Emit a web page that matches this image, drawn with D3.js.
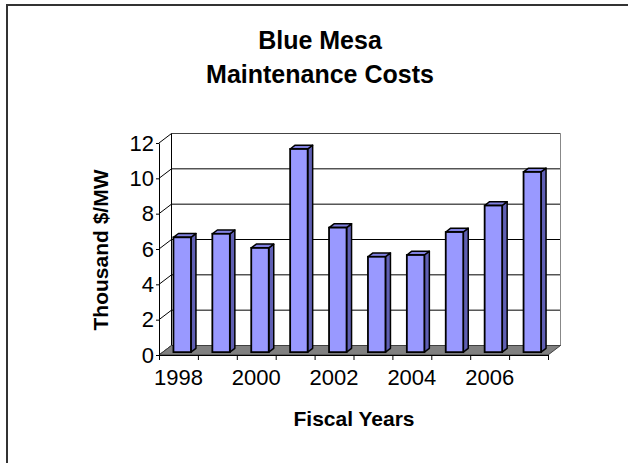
<!DOCTYPE html>
<html>
<head>
<meta charset="utf-8">
<script src="https://cdn.jsdelivr.net/npm/d3@7"></script>
<style>
  html, body { margin: 0; padding: 0; background: #fff; }
  svg { display: block; font-family: "Liberation Sans", Arial, sans-serif; }
</style>
</head>
<body>
<div id="chart"></div>
<script>
// ---- data ----
const years = [1998, 1999, 2000, 2001, 2002, 2003, 2004, 2005, 2006, 2007];
const costs = [6.5, 6.7, 5.9, 11.5, 7.05, 5.4, 5.5, 6.8, 8.3, 10.2];
const yTicks = [0, 2, 4, 6, 8, 10, 12];
const xLabelYears = [1998, 2000, 2002, 2004, 2006];
const titleLines = ["Blue Mesa", "Maintenance Costs"];
const xTitle = "Fiscal Years";
const yTitle = "Thousand $/MW";

(function () {
// ---- layout ----
const W = 628, H = 463;
const pLeft = 159, pRight = 548, pTop = 143, pBottom = 355;
const dx = 12.5, dy = -9.5;     // depth offset of the 3D box
const t0 = 0.3, t1 = 0.7;       // bar depth span

const svg = d3.select("#chart").append("svg").attr("width", W).attr("height", H);

// outer chart-area border (only left/top visible)
svg.append("rect").attr("x", 7).attr("y", 5).attr("width", 680).attr("height", 520)
  .attr("fill", "#fff").attr("stroke", "#333").attr("stroke-width", 2);

const x = d3.scaleBand().domain(years).range([pLeft, pRight]).paddingInner(0).paddingOuter(0);
const y = d3.scaleLinear().domain([0, 12]).range([pBottom, pTop]);

// back wall
svg.append("rect")
  .attr("x", pLeft + dx).attr("y", y(12) + dy)
  .attr("width", pRight - pLeft).attr("height", y(0) - y(12))
  .attr("fill", "#fff").attr("stroke", "none");

// gridlines: back wall horizontal + left wall diagonal
const grid = svg.append("g");
yTicks.forEach(v => {
  grid.append("line")
    .attr("x1", pLeft + dx).attr("x2", pRight + dx)
    .attr("y1", y(v) + dy).attr("y2", y(v) + dy)
    .attr("stroke", v === 12 ? "#444" : "#000").attr("stroke-width", 1);
  grid.append("line")
    .attr("x1", pLeft).attr("y1", y(v))
    .attr("x2", pLeft + dx).attr("y2", y(v) + dy)
    .attr("stroke", "#000").attr("stroke-width", 1);
});
// back wall edges
grid.append("line").attr("x1", pLeft + dx).attr("x2", pLeft + dx)
  .attr("y1", y(12) + dy).attr("y2", y(0) + dy).attr("stroke", "#000");
grid.append("line").attr("x1", pRight + dx).attr("x2", pRight + dx)
  .attr("y1", y(12) + dy).attr("y2", y(0) + dy).attr("stroke", "#888");

// floor
const floorPts = [[pLeft, y(0)], [pRight, y(0)], [pRight + dx, y(0) + dy], [pLeft + dx, y(0) + dy]];
svg.append("polygon")
  .attr("points", floorPts.map(p => p.join(",")).join(" "))
  .attr("fill", "#808080").attr("stroke", "#404040").attr("stroke-width", 1);

// bars
const bw = x.bandwidth() * 0.45;
const bars = svg.append("g");
years.forEach((yr, i) => {
  const cx = x(yr) + x.bandwidth() / 2;
  const x0 = cx - bw / 2, x1 = cx + bw / 2;
  const yt = y(costs[i]), yb = y(0);
  const P = (px, py, t) => [px + t * dx, py + t * dy];
  const poly = pts => pts.map(p => p.join(",")).join(" ");
  bars.append("polygon")
    .attr("points", poly([P(x1, yt, t0), P(x1, yt, t1), P(x1, yb, t1), P(x1, yb, t0)]))
    .attr("fill", "#5f5fb3").attr("stroke", "#000").attr("stroke-width", 1.5).attr("stroke-linejoin", "round");
  bars.append("polygon")
    .attr("points", poly([P(x0, yt, t0), P(x1, yt, t0), P(x1, yt, t1), P(x0, yt, t1)]))
    .attr("fill", "#8080e0").attr("stroke", "#000").attr("stroke-width", 1.5).attr("stroke-linejoin", "round");
  const f = P(x0, yt, t0);
  bars.append("rect")
    .attr("x", f[0]).attr("y", f[1])
    .attr("width", x1 - x0).attr("height", yb - yt)
    .attr("fill", "#9999ff").attr("stroke", "#000").attr("stroke-width", 1.8);
});

// y axis (front left edge)
const yAxis = d3.axisLeft(y).tickValues(yTicks).tickSize(3).tickSizeOuter(0).tickPadding(2);
const gy = svg.append("g").attr("transform", `translate(${pLeft},0)`).call(yAxis);
gy.selectAll("text").attr("font-size", 22).attr("fill", "#000")
  .attr("font-family", "'Liberation Sans', Arial, sans-serif");
gy.selectAll("line, path").attr("stroke", "#000");

// x axis tick marks at category boundaries
const xEdge = d3.scaleLinear().domain([0, years.length]).range([pLeft, pRight]);
const gxt = svg.append("g").attr("transform", `translate(0,${pBottom})`)
  .call(d3.axisBottom(xEdge).ticks(years.length).tickSize(5).tickSizeOuter(0).tickFormat(""));
gxt.selectAll("line, path").attr("stroke", "#000");

// x labels
const gx = svg.append("g").attr("transform", `translate(0,${pBottom})`)
  .call(d3.axisBottom(x).tickSize(0).tickPadding(14)
    .tickFormat(d => xLabelYears.includes(d) ? String(d) : ""));
gx.select("path").remove();
gx.selectAll("text").attr("font-size", 22).attr("fill", "#000")
  .attr("font-family", "'Liberation Sans', Arial, sans-serif");

// titles
const tt = svg.append("text").attr("text-anchor", "middle")
  .attr("font-size", 25).attr("font-weight", "bold").attr("fill", "#000");
titleLines.forEach((l, i) => {
  tt.append("tspan").attr("x", 320).attr("y", 49 + i * 34).text(l);
});

svg.append("text").attr("x", 354).attr("y", 426).attr("text-anchor", "middle")
  .attr("font-size", 21).attr("font-weight", "bold").text(xTitle);

svg.append("text").attr("transform", "translate(108,250) rotate(-90)")
  .attr("text-anchor", "middle").attr("font-size", 21).attr("font-weight", "bold").text(yTitle);
})();
</script>
</body>
</html>
